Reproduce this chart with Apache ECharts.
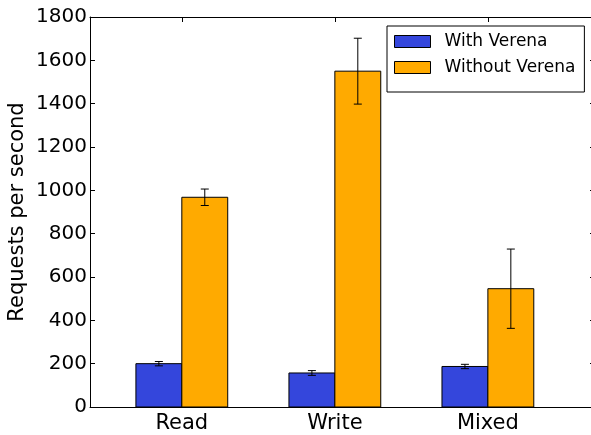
<!DOCTYPE html>
<html>
<head>
<meta charset="utf-8">
<script src="https://cdn.jsdelivr.net/npm/echarts@6/dist/echarts.min.js"></script>
<style>
html,body{margin:0;padding:0;background:#fff;}
#chart{width:591px;height:435px;}
</style>
</head>
<body>
<div id="chart"></div>
<script>
const categories = ['Read', 'Write', 'Mixed'];
const withVerena = [200, 157, 187];
const withVerenaErr = [10, 11, 10];
const withoutVerena = [968, 1550, 546];
const withoutVerenaErr = [38, 152, 183];
const yTicks = [0, 200, 400, 600, 800, 1000, 1200, 1400, 1600, 1800];
const seriesNames = ['With Verena', 'Without Verena'];

const FONT = 'DejaVu Sans';
const BAR_W = 0.3;

function makeRender(offset, errs) {
  return function (params, api) {
    const idx = api.value(0);
    const val = api.value(1);
    const p0 = api.coord([idx + offset, val]);
    const p1 = api.coord([idx + offset + BAR_W, 0]);
    const err = errs[params.dataIndex];
    const cx = api.coord([idx + offset + BAR_W / 2, val])[0];
    const eTop = api.coord([idx, val + err])[1];
    const eBot = api.coord([idx, val - err])[1];
    const cap = 4;
    return {
      type: 'group',
      children: [
        {
          type: 'rect',
          shape: { x: p0[0], y: p0[1], width: p1[0] - p0[0], height: p1[1] - p0[1] },
          style: { fill: api.visual('color'), stroke: '#000', lineWidth: 1 }
        },
        { type: 'line', shape: { x1: cx, y1: eTop, x2: cx, y2: eBot }, style: { stroke: '#000', lineWidth: 1 } },
        { type: 'line', shape: { x1: cx - cap, y1: eTop, x2: cx + cap, y2: eTop }, style: { stroke: '#000', lineWidth: 1 } },
        { type: 'line', shape: { x1: cx - cap, y1: eBot, x2: cx + cap, y2: eBot }, style: { stroke: '#000', lineWidth: 1 } }
      ]
    };
  };
}

const chart = echarts.init(document.getElementById('chart'), null, { renderer: 'canvas' });

const xAxisCommon = {
  type: 'value',
  min: -0.6,
  max: 2.7,
  splitLine: { show: false },
  axisLine: { show: true, onZero: false, lineStyle: { color: '#000', width: 1 } },
  axisTick: { show: true, inside: true, length: 5, lineStyle: { color: '#000' }, customValues: [0, 1, 2] },
};

const yAxisCommon = {
  type: 'value',
  min: 0,
  max: 1800,
  interval: 200,
  splitLine: { show: false },
  axisLine: { show: true, onZero: false, lineStyle: { color: '#000', width: 1 } },
  axisTick: { show: true, inside: true, length: 5, lineStyle: { color: '#000' } },
};

chart.setOption({
  animation: false,
  backgroundColor: '#fff',
  grid: { left: 90, right: -4, top: 17, bottom: 28, containLabel: false, outerBoundsMode: 'none' },
  legend: {
    left: 387,
    top: 26,
    orient: 'vertical',
    backgroundColor: '#fff',
    borderColor: '#000',
    borderWidth: 1,
    padding: [7, 9, 16, 7],
    itemWidth: 36,
    itemHeight: 12,
    itemGap: 9,
    textStyle: { fontFamily: FONT, fontSize: 17, color: '#000', padding: [0, 0, 0, 9] },
    data: [
      { name: seriesNames[0], icon: 'rect', itemStyle: { color: '#3446DC', borderColor: '#000', borderWidth: 1 } },
      { name: seriesNames[1], icon: 'rect', itemStyle: { color: '#FFAA00', borderColor: '#000', borderWidth: 1 } }
    ]
  },
  xAxis: [
    Object.assign({}, xAxisCommon, {
      position: 'bottom',
      axisLabel: {
        show: true, fontFamily: FONT, fontSize: 21, color: '#000', margin: 6,
        customValues: [0, 1, 2],
        formatter: function (v) { return categories[Math.round(v)]; }
      }
    }),
    Object.assign({}, xAxisCommon, { position: 'top', axisLabel: { show: false } })
  ],
  yAxis: [
    Object.assign({}, yAxisCommon, {
      position: 'left',
      name: 'Requests per second',
      nameLocation: 'middle',
      nameGap: 62,
      nameMoveOverlap: false,
      nameTextStyle: { fontFamily: FONT, fontSize: 21, color: '#000' },
      axisLabel: { show: true, fontFamily: FONT, fontSize: 20, color: '#000', margin: 3,
        formatter: function (v) { return String(v); } }
    }),
    Object.assign({}, yAxisCommon, { position: 'right', axisLabel: { show: false } })
  ],
  series: [
    {
      name: seriesNames[0],
      type: 'custom',
      color: '#3446DC',
      itemStyle: { color: '#3446DC' },
      encode: { x: 0, y: 1 },
      data: withVerena.map((v, i) => [i, v]),
      renderItem: makeRender(-BAR_W, withVerenaErr),
      z: 2
    },
    {
      name: seriesNames[1],
      type: 'custom',
      color: '#FFAA00',
      itemStyle: { color: '#FFAA00' },
      encode: { x: 0, y: 1 },
      data: withoutVerena.map((v, i) => [i, v]),
      renderItem: makeRender(0, withoutVerenaErr),
      z: 2
    }
  ]
});
</script>
</body>
</html>
